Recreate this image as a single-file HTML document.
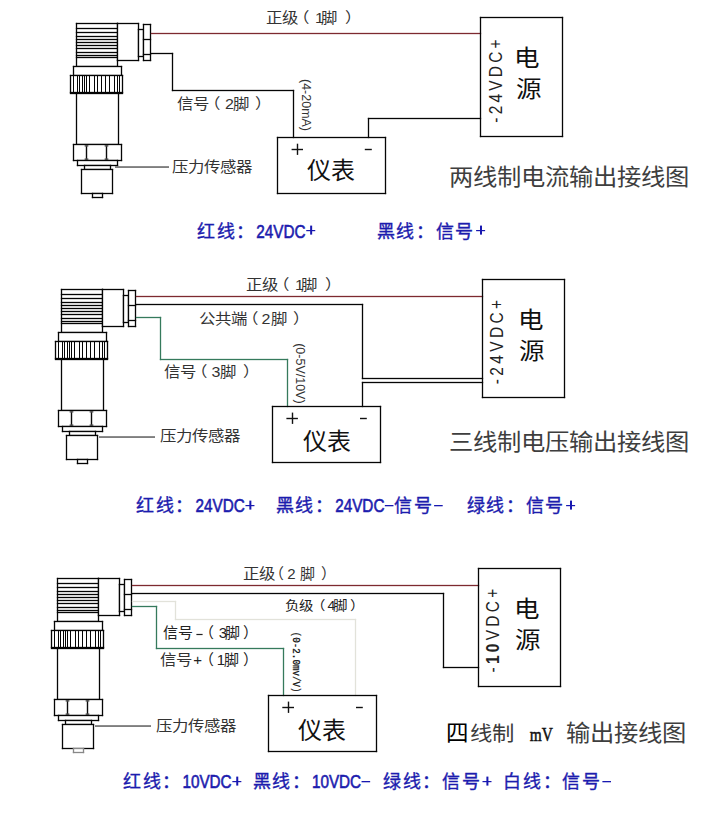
<!DOCTYPE html>
<html lang="zh-CN"><head><meta charset="utf-8"><title>wiring</title>
<style>
html,body{margin:0;padding:0;background:#fff;width:725px;height:822px;overflow:hidden}
svg{display:block}

text{font-family:"Liberation Sans",sans-serif}
.lbl{font-size:16px;fill:#333}
.l15{font-size:15px;fill:#222}
.l14{font-size:14px;fill:#222}
.lp{font-size:15px;fill:#333}
.vs{font-size:12px;fill:#333}
.vs2{font-size:11.5px;fill:#111;stroke:#111;stroke-width:0.25px;font-family:"Liberation Mono",monospace}
.yb{font-size:24px;fill:#111}
.vd{font-size:18px;fill:#222}
.dy{font-size:23px;fill:#111}
.ttl{font-size:24px;fill:#3e3e3e}
.t4{font-size:22.5px;fill:#000}
.t22{font-size:22px;fill:#3a3a3a}
.mv{font-family:"Liberation Serif",serif;font-size:19px;fill:#111;stroke:#111;stroke-width:0.5px}
.bl{font-size:18px;font-weight:500;fill:#1c1cae;stroke:#1c1cae;stroke-width:0.35px}
.bll{font-size:18.5px;fill:#1c1cae;stroke:#1c1cae;stroke-width:0.6px}
</style></head>
<body>
<svg width="725" height="822" viewBox="0 0 725 822">
<rect x="76" y="23" width="42" height="44" fill="#fff"/>
<rect x="75.85" y="22.85" width="42.3" height="1.3" fill="#050505"/>
<rect x="75.85" y="65.85" width="42.3" height="1.3" fill="#050505"/>
<rect x="75.85" y="22.85" width="1.3" height="44.3" fill="#050505"/>
<rect x="116.85" y="22.85" width="1.3" height="44.3" fill="#050505"/>
<rect x="75.85" y="27.85" width="42.3" height="1.3" fill="#050505"/>
<rect x="75.85" y="31.85" width="42.3" height="1.3" fill="#050505"/>
<rect x="75.85" y="35.85" width="42.3" height="1.3" fill="#050505"/>
<rect x="75.85" y="38.85" width="42.3" height="1.3" fill="#050505"/>
<rect x="75.85" y="41.85" width="42.3" height="1.3" fill="#050505"/>
<rect x="75.85" y="44.85" width="42.3" height="1.3" fill="#050505"/>
<rect x="75.85" y="47.85" width="42.3" height="1.3" fill="#050505"/>
<rect x="75.85" y="51.85" width="42.3" height="1.3" fill="#050505"/>
<rect x="75.85" y="54.85" width="42.3" height="1.3" fill="#050505"/>
<rect x="75.85" y="56.85" width="42.3" height="1.3" fill="#050505"/>
<rect x="117" y="23" width="22" height="38" fill="#fff"/>
<rect x="116.85" y="22.85" width="22.3" height="1.3" fill="#050505"/>
<rect x="116.85" y="59.85" width="22.3" height="1.3" fill="#050505"/>
<rect x="116.85" y="22.85" width="1.3" height="38.3" fill="#050505"/>
<rect x="137.85" y="22.85" width="1.3" height="38.3" fill="#050505"/>
<rect x="138" y="29" width="6" height="28" fill="#fff"/>
<rect x="137.85" y="28.85" width="6.3" height="1.3" fill="#050505"/>
<rect x="137.85" y="55.85" width="6.3" height="1.3" fill="#050505"/>
<rect x="137.85" y="28.85" width="1.3" height="28.3" fill="#050505"/>
<rect x="142.85" y="28.85" width="1.3" height="28.3" fill="#050505"/>
<rect x="143" y="24" width="8" height="37" fill="#fff"/>
<rect x="142.85" y="23.85" width="8.3" height="1.3" fill="#050505"/>
<rect x="142.85" y="59.85" width="8.3" height="1.3" fill="#050505"/>
<rect x="142.85" y="23.85" width="1.3" height="37.3" fill="#050505"/>
<rect x="149.85" y="23.85" width="1.3" height="37.3" fill="#050505"/>
<rect x="142.85" y="38.85" width="8.3" height="1.3" fill="#050505"/>
<rect x="142.85" y="53.85" width="8.3" height="1.3" fill="#050505"/>
<rect x="73" y="66" width="49" height="10" fill="#fff"/>
<rect x="72.85" y="65.85" width="49.3" height="1.3" fill="#050505"/>
<rect x="72.85" y="74.85" width="49.3" height="1.3" fill="#050505"/>
<rect x="72.85" y="65.85" width="1.3" height="10.3" fill="#050505"/>
<rect x="120.85" y="65.85" width="1.3" height="10.3" fill="#050505"/>
<rect x="70" y="75" width="53" height="18" fill="#fff"/>
<rect x="69.85" y="74.85" width="53.3" height="1.3" fill="#050505"/>
<rect x="69.85" y="91.85" width="53.3" height="1.3" fill="#050505"/>
<rect x="69.85" y="74.85" width="1.3" height="18.3" fill="#050505"/>
<rect x="121.85" y="74.85" width="1.3" height="18.3" fill="#050505"/>
<rect x="69.85" y="92.85" width="53.3" height="1.3" fill="#050505"/>
<rect x="73.0" y="75.0" width="1" height="18" fill="#050505"/>
<rect x="77.0" y="75.0" width="1" height="18" fill="#050505"/>
<rect x="79.0" y="75.0" width="1" height="18" fill="#050505"/>
<rect x="82.0" y="75.0" width="1" height="18" fill="#050505"/>
<rect x="84.0" y="75.0" width="1" height="18" fill="#050505"/>
<rect x="86.0" y="75.0" width="1" height="18" fill="#050505"/>
<rect x="89.0" y="75.0" width="1" height="18" fill="#050505"/>
<rect x="94.0" y="75.0" width="1" height="18" fill="#050505"/>
<rect x="97.0" y="75.0" width="1" height="18" fill="#050505"/>
<rect x="101.0" y="75.0" width="1" height="18" fill="#050505"/>
<rect x="105.0" y="75.0" width="1" height="18" fill="#050505"/>
<rect x="109.0" y="75.0" width="1" height="18" fill="#050505"/>
<rect x="114.0" y="75.0" width="1" height="18" fill="#050505"/>
<rect x="117.0" y="75.0" width="1" height="18" fill="#050505"/>
<rect x="119.0" y="75.0" width="1" height="18" fill="#050505"/>
<rect x="76" y="93" width="43" height="52" fill="#fff"/>
<rect x="75.85" y="92.85" width="43.3" height="1.3" fill="#050505"/>
<rect x="75.85" y="143.85" width="43.3" height="1.3" fill="#050505"/>
<rect x="75.85" y="92.85" width="1.3" height="52.3" fill="#050505"/>
<rect x="117.85" y="92.85" width="1.3" height="52.3" fill="#050505"/>
<rect x="73" y="144" width="49" height="17" fill="#fff"/>
<rect x="72.85" y="143.85" width="49.3" height="1.3" fill="#050505"/>
<rect x="72.85" y="159.85" width="49.3" height="1.3" fill="#050505"/>
<rect x="72.85" y="143.85" width="1.3" height="17.3" fill="#050505"/>
<rect x="120.85" y="143.85" width="1.3" height="17.3" fill="#050505"/>
<rect x="85.8" y="144.8" width="1.4" height="15.4" fill="#0a0a0a"/>
<rect x="84.65" y="145.1" width="3.7" height="1.5" fill="#555"/>
<rect x="84.65" y="158.4" width="3.7" height="1.5" fill="#555"/>
<rect x="105.8" y="144.8" width="1.4" height="15.4" fill="#0a0a0a"/>
<rect x="104.65" y="145.1" width="3.7" height="1.5" fill="#555"/>
<rect x="104.65" y="158.4" width="3.7" height="1.5" fill="#555"/>
<rect x="77" y="160" width="41" height="6" fill="#fff"/>
<rect x="76.85" y="159.85" width="41.3" height="1.3" fill="#050505"/>
<rect x="76.85" y="164.85" width="41.3" height="1.3" fill="#050505"/>
<rect x="76.85" y="159.85" width="1.3" height="6.3" fill="#050505"/>
<rect x="116.85" y="159.85" width="1.3" height="6.3" fill="#050505"/>
<rect x="84" y="165" width="27" height="5" fill="#fff"/>
<rect x="83.85" y="164.85" width="27.3" height="1.3" fill="#050505"/>
<rect x="83.85" y="168.85" width="27.3" height="1.3" fill="#050505"/>
<rect x="83.85" y="164.85" width="1.3" height="5.3" fill="#050505"/>
<rect x="109.85" y="164.85" width="1.3" height="5.3" fill="#050505"/>
<rect x="81" y="169" width="32" height="25" fill="#fff"/>
<rect x="80.85" y="168.85" width="32.3" height="1.3" fill="#050505"/>
<rect x="80.85" y="192.85" width="32.3" height="1.3" fill="#050505"/>
<rect x="80.85" y="168.85" width="1.3" height="25.3" fill="#050505"/>
<rect x="111.85" y="168.85" width="1.3" height="25.3" fill="#050505"/>
<rect x="92" y="193" width="11" height="5" fill="#fff"/>
<rect x="91.85" y="192.85" width="11.3" height="1.3" fill="#050505"/>
<rect x="91.85" y="196.85" width="11.3" height="1.3" fill="#050505"/>
<rect x="91.85" y="192.85" width="1.3" height="5.3" fill="#050505"/>
<rect x="101.85" y="192.85" width="1.3" height="5.3" fill="#050505"/>
<rect x="150.85" y="32.85" width="330.3" height="1.3" fill="#7d2a30"/>
<rect x="150.85" y="52.85" width="22.3" height="1.3" fill="#050505"/>
<rect x="171.85" y="52.85" width="1.3" height="38.3" fill="#050505"/>
<rect x="171.85" y="89.85" width="122.3" height="1.3" fill="#050505"/>
<rect x="292.85" y="89.85" width="1.3" height="48.3" fill="#050505"/>
<rect x="367.85" y="117.85" width="1.3" height="20.3" fill="#050505"/>
<rect x="367.85" y="117.85" width="113.3" height="1.3" fill="#050505"/>
<rect x="115" y="166.2" width="54" height="1.7" fill="#707070"/>
<rect x="276.85" y="136.85" width="109.3" height="1.3" fill="#050505"/>
<rect x="276.85" y="192.85" width="109.3" height="1.3" fill="#050505"/>
<rect x="276.85" y="136.85" width="1.3" height="57.3" fill="#050505"/>
<rect x="384.85" y="136.85" width="1.3" height="57.3" fill="#050505"/>
<rect x="479.85" y="16.85" width="83.3" height="1.3" fill="#050505"/>
<rect x="479.85" y="135.85" width="83.3" height="1.3" fill="#050505"/>
<rect x="479.85" y="16.85" width="1.3" height="120.3" fill="#050505"/>
<rect x="561.85" y="16.85" width="1.3" height="120.3" fill="#050505"/>
<rect x="61" y="289" width="42" height="44" fill="#fff"/>
<rect x="60.85" y="288.85" width="42.3" height="1.3" fill="#050505"/>
<rect x="60.85" y="331.85" width="42.3" height="1.3" fill="#050505"/>
<rect x="60.85" y="288.85" width="1.3" height="44.3" fill="#050505"/>
<rect x="101.85" y="288.85" width="1.3" height="44.3" fill="#050505"/>
<rect x="60.85" y="293.85" width="42.3" height="1.3" fill="#050505"/>
<rect x="60.85" y="297.85" width="42.3" height="1.3" fill="#050505"/>
<rect x="60.85" y="301.85" width="42.3" height="1.3" fill="#050505"/>
<rect x="60.85" y="304.85" width="42.3" height="1.3" fill="#050505"/>
<rect x="60.85" y="307.85" width="42.3" height="1.3" fill="#050505"/>
<rect x="60.85" y="310.85" width="42.3" height="1.3" fill="#050505"/>
<rect x="60.85" y="313.85" width="42.3" height="1.3" fill="#050505"/>
<rect x="60.85" y="317.85" width="42.3" height="1.3" fill="#050505"/>
<rect x="60.85" y="320.85" width="42.3" height="1.3" fill="#050505"/>
<rect x="60.85" y="322.85" width="42.3" height="1.3" fill="#050505"/>
<rect x="102" y="289" width="22" height="38" fill="#fff"/>
<rect x="101.85" y="288.85" width="22.3" height="1.3" fill="#050505"/>
<rect x="101.85" y="325.85" width="22.3" height="1.3" fill="#050505"/>
<rect x="101.85" y="288.85" width="1.3" height="38.3" fill="#050505"/>
<rect x="122.85" y="288.85" width="1.3" height="38.3" fill="#050505"/>
<rect x="123" y="295" width="6" height="28" fill="#fff"/>
<rect x="122.85" y="294.85" width="6.3" height="1.3" fill="#050505"/>
<rect x="122.85" y="321.85" width="6.3" height="1.3" fill="#050505"/>
<rect x="122.85" y="294.85" width="1.3" height="28.3" fill="#050505"/>
<rect x="127.85" y="294.85" width="1.3" height="28.3" fill="#050505"/>
<rect x="128" y="290" width="8" height="37" fill="#fff"/>
<rect x="127.85" y="289.85" width="8.3" height="1.3" fill="#050505"/>
<rect x="127.85" y="325.85" width="8.3" height="1.3" fill="#050505"/>
<rect x="127.85" y="289.85" width="1.3" height="37.3" fill="#050505"/>
<rect x="134.85" y="289.85" width="1.3" height="37.3" fill="#050505"/>
<rect x="127.85" y="304.85" width="8.3" height="1.3" fill="#050505"/>
<rect x="127.85" y="319.85" width="8.3" height="1.3" fill="#050505"/>
<rect x="58" y="332" width="49" height="10" fill="#fff"/>
<rect x="57.85" y="331.85" width="49.3" height="1.3" fill="#050505"/>
<rect x="57.85" y="340.85" width="49.3" height="1.3" fill="#050505"/>
<rect x="57.85" y="331.85" width="1.3" height="10.3" fill="#050505"/>
<rect x="105.85" y="331.85" width="1.3" height="10.3" fill="#050505"/>
<rect x="55" y="341" width="53" height="18" fill="#fff"/>
<rect x="54.85" y="340.85" width="53.3" height="1.3" fill="#050505"/>
<rect x="54.85" y="357.85" width="53.3" height="1.3" fill="#050505"/>
<rect x="54.85" y="340.85" width="1.3" height="18.3" fill="#050505"/>
<rect x="106.85" y="340.85" width="1.3" height="18.3" fill="#050505"/>
<rect x="54.85" y="358.85" width="53.3" height="1.3" fill="#050505"/>
<rect x="58.0" y="341.0" width="1" height="18" fill="#050505"/>
<rect x="62.0" y="341.0" width="1" height="18" fill="#050505"/>
<rect x="64.0" y="341.0" width="1" height="18" fill="#050505"/>
<rect x="67.0" y="341.0" width="1" height="18" fill="#050505"/>
<rect x="69.0" y="341.0" width="1" height="18" fill="#050505"/>
<rect x="71.0" y="341.0" width="1" height="18" fill="#050505"/>
<rect x="74.0" y="341.0" width="1" height="18" fill="#050505"/>
<rect x="79.0" y="341.0" width="1" height="18" fill="#050505"/>
<rect x="82.0" y="341.0" width="1" height="18" fill="#050505"/>
<rect x="86.0" y="341.0" width="1" height="18" fill="#050505"/>
<rect x="90.0" y="341.0" width="1" height="18" fill="#050505"/>
<rect x="94.0" y="341.0" width="1" height="18" fill="#050505"/>
<rect x="99.0" y="341.0" width="1" height="18" fill="#050505"/>
<rect x="102.0" y="341.0" width="1" height="18" fill="#050505"/>
<rect x="104.0" y="341.0" width="1" height="18" fill="#050505"/>
<rect x="61" y="359" width="43" height="52" fill="#fff"/>
<rect x="60.85" y="358.85" width="43.3" height="1.3" fill="#050505"/>
<rect x="60.85" y="409.85" width="43.3" height="1.3" fill="#050505"/>
<rect x="60.85" y="358.85" width="1.3" height="52.3" fill="#050505"/>
<rect x="102.85" y="358.85" width="1.3" height="52.3" fill="#050505"/>
<rect x="58" y="410" width="49" height="17" fill="#fff"/>
<rect x="57.85" y="409.85" width="49.3" height="1.3" fill="#050505"/>
<rect x="57.85" y="425.85" width="49.3" height="1.3" fill="#050505"/>
<rect x="57.85" y="409.85" width="1.3" height="17.3" fill="#050505"/>
<rect x="105.85" y="409.85" width="1.3" height="17.3" fill="#050505"/>
<rect x="70.8" y="410.8" width="1.4" height="15.4" fill="#0a0a0a"/>
<rect x="69.65" y="411.1" width="3.7" height="1.5" fill="#555"/>
<rect x="69.65" y="424.4" width="3.7" height="1.5" fill="#555"/>
<rect x="90.8" y="410.8" width="1.4" height="15.4" fill="#0a0a0a"/>
<rect x="89.65" y="411.1" width="3.7" height="1.5" fill="#555"/>
<rect x="89.65" y="424.4" width="3.7" height="1.5" fill="#555"/>
<rect x="62" y="426" width="41" height="6" fill="#fff"/>
<rect x="61.85" y="425.85" width="41.3" height="1.3" fill="#050505"/>
<rect x="61.85" y="430.85" width="41.3" height="1.3" fill="#050505"/>
<rect x="61.85" y="425.85" width="1.3" height="6.3" fill="#050505"/>
<rect x="101.85" y="425.85" width="1.3" height="6.3" fill="#050505"/>
<rect x="69" y="431" width="27" height="5" fill="#fff"/>
<rect x="68.85" y="430.85" width="27.3" height="1.3" fill="#050505"/>
<rect x="68.85" y="434.85" width="27.3" height="1.3" fill="#050505"/>
<rect x="68.85" y="430.85" width="1.3" height="5.3" fill="#050505"/>
<rect x="94.85" y="430.85" width="1.3" height="5.3" fill="#050505"/>
<rect x="66" y="435" width="32" height="25" fill="#fff"/>
<rect x="65.85" y="434.85" width="32.3" height="1.3" fill="#050505"/>
<rect x="65.85" y="458.85" width="32.3" height="1.3" fill="#050505"/>
<rect x="65.85" y="434.85" width="1.3" height="25.3" fill="#050505"/>
<rect x="96.85" y="434.85" width="1.3" height="25.3" fill="#050505"/>
<rect x="77" y="459" width="11" height="5" fill="#fff"/>
<rect x="76.85" y="458.85" width="11.3" height="1.3" fill="#050505"/>
<rect x="76.85" y="462.85" width="11.3" height="1.3" fill="#050505"/>
<rect x="76.85" y="458.85" width="1.3" height="5.3" fill="#050505"/>
<rect x="86.85" y="458.85" width="1.3" height="5.3" fill="#050505"/>
<rect x="135.85" y="295.85" width="347.3" height="1.3" fill="#7d2a30"/>
<rect x="135.85" y="303.85" width="227.3" height="1.3" fill="#050505"/>
<rect x="361.85" y="303.85" width="1.3" height="75.3" fill="#050505"/>
<rect x="361.85" y="377.85" width="121.3" height="1.3" fill="#050505"/>
<rect x="361.85" y="381.85" width="1.3" height="25.3" fill="#050505"/>
<rect x="361.85" y="381.85" width="121.3" height="1.3" fill="#050505"/>
<rect x="135.85" y="316.85" width="25.3" height="1.3" fill="#357a5c"/>
<rect x="159.85" y="316.85" width="1.3" height="43.3" fill="#357a5c"/>
<rect x="159.85" y="358.85" width="128.3" height="1.3" fill="#357a5c"/>
<rect x="286.85" y="358.85" width="1.3" height="48.3" fill="#357a5c"/>
<rect x="99" y="436.2" width="56" height="1.7" fill="#707070"/>
<rect x="271.85" y="405.85" width="109.3" height="1.3" fill="#050505"/>
<rect x="271.85" y="461.85" width="109.3" height="1.3" fill="#050505"/>
<rect x="271.85" y="405.85" width="1.3" height="57.3" fill="#050505"/>
<rect x="379.85" y="405.85" width="1.3" height="57.3" fill="#050505"/>
<rect x="481.85" y="278.85" width="83.3" height="1.3" fill="#050505"/>
<rect x="481.85" y="396.85" width="83.3" height="1.3" fill="#050505"/>
<rect x="481.85" y="278.85" width="1.3" height="119.3" fill="#050505"/>
<rect x="563.85" y="278.85" width="1.3" height="119.3" fill="#050505"/>
<rect x="57" y="578" width="42" height="44" fill="#fff"/>
<rect x="56.85" y="577.85" width="42.3" height="1.3" fill="#050505"/>
<rect x="56.85" y="620.85" width="42.3" height="1.3" fill="#050505"/>
<rect x="56.85" y="577.85" width="1.3" height="44.3" fill="#050505"/>
<rect x="97.85" y="577.85" width="1.3" height="44.3" fill="#050505"/>
<rect x="56.85" y="582.85" width="42.3" height="1.3" fill="#050505"/>
<rect x="56.85" y="586.85" width="42.3" height="1.3" fill="#050505"/>
<rect x="56.85" y="590.85" width="42.3" height="1.3" fill="#050505"/>
<rect x="56.85" y="593.85" width="42.3" height="1.3" fill="#050505"/>
<rect x="56.85" y="596.85" width="42.3" height="1.3" fill="#050505"/>
<rect x="56.85" y="599.85" width="42.3" height="1.3" fill="#050505"/>
<rect x="56.85" y="602.85" width="42.3" height="1.3" fill="#050505"/>
<rect x="56.85" y="606.85" width="42.3" height="1.3" fill="#050505"/>
<rect x="56.85" y="609.85" width="42.3" height="1.3" fill="#050505"/>
<rect x="56.85" y="611.85" width="42.3" height="1.3" fill="#050505"/>
<rect x="98" y="578" width="22" height="38" fill="#fff"/>
<rect x="97.85" y="577.85" width="22.3" height="1.3" fill="#050505"/>
<rect x="97.85" y="614.85" width="22.3" height="1.3" fill="#050505"/>
<rect x="97.85" y="577.85" width="1.3" height="38.3" fill="#050505"/>
<rect x="118.85" y="577.85" width="1.3" height="38.3" fill="#050505"/>
<rect x="119" y="584" width="6" height="28" fill="#fff"/>
<rect x="118.85" y="583.85" width="6.3" height="1.3" fill="#050505"/>
<rect x="118.85" y="610.85" width="6.3" height="1.3" fill="#050505"/>
<rect x="118.85" y="583.85" width="1.3" height="28.3" fill="#050505"/>
<rect x="123.85" y="583.85" width="1.3" height="28.3" fill="#050505"/>
<rect x="124" y="579" width="8" height="37" fill="#fff"/>
<rect x="123.85" y="578.85" width="8.3" height="1.3" fill="#050505"/>
<rect x="123.85" y="614.85" width="8.3" height="1.3" fill="#050505"/>
<rect x="123.85" y="578.85" width="1.3" height="37.3" fill="#050505"/>
<rect x="130.85" y="578.85" width="1.3" height="37.3" fill="#050505"/>
<rect x="123.85" y="593.85" width="8.3" height="1.3" fill="#050505"/>
<rect x="123.85" y="608.85" width="8.3" height="1.3" fill="#050505"/>
<rect x="54" y="621" width="49" height="10" fill="#fff"/>
<rect x="53.85" y="620.85" width="49.3" height="1.3" fill="#050505"/>
<rect x="53.85" y="629.85" width="49.3" height="1.3" fill="#050505"/>
<rect x="53.85" y="620.85" width="1.3" height="10.3" fill="#050505"/>
<rect x="101.85" y="620.85" width="1.3" height="10.3" fill="#050505"/>
<rect x="51" y="630" width="53" height="18" fill="#fff"/>
<rect x="50.85" y="629.85" width="53.3" height="1.3" fill="#050505"/>
<rect x="50.85" y="646.85" width="53.3" height="1.3" fill="#050505"/>
<rect x="50.85" y="629.85" width="1.3" height="18.3" fill="#050505"/>
<rect x="102.85" y="629.85" width="1.3" height="18.3" fill="#050505"/>
<rect x="50.85" y="647.85" width="53.3" height="1.3" fill="#050505"/>
<rect x="54.0" y="630.0" width="1" height="18" fill="#050505"/>
<rect x="58.0" y="630.0" width="1" height="18" fill="#050505"/>
<rect x="60.0" y="630.0" width="1" height="18" fill="#050505"/>
<rect x="63.0" y="630.0" width="1" height="18" fill="#050505"/>
<rect x="65.0" y="630.0" width="1" height="18" fill="#050505"/>
<rect x="67.0" y="630.0" width="1" height="18" fill="#050505"/>
<rect x="70.0" y="630.0" width="1" height="18" fill="#050505"/>
<rect x="75.0" y="630.0" width="1" height="18" fill="#050505"/>
<rect x="78.0" y="630.0" width="1" height="18" fill="#050505"/>
<rect x="82.0" y="630.0" width="1" height="18" fill="#050505"/>
<rect x="86.0" y="630.0" width="1" height="18" fill="#050505"/>
<rect x="90.0" y="630.0" width="1" height="18" fill="#050505"/>
<rect x="95.0" y="630.0" width="1" height="18" fill="#050505"/>
<rect x="98.0" y="630.0" width="1" height="18" fill="#050505"/>
<rect x="100.0" y="630.0" width="1" height="18" fill="#050505"/>
<rect x="57" y="648" width="43" height="52" fill="#fff"/>
<rect x="56.85" y="647.85" width="43.3" height="1.3" fill="#050505"/>
<rect x="56.85" y="698.85" width="43.3" height="1.3" fill="#050505"/>
<rect x="56.85" y="647.85" width="1.3" height="52.3" fill="#050505"/>
<rect x="98.85" y="647.85" width="1.3" height="52.3" fill="#050505"/>
<rect x="54" y="699" width="49" height="17" fill="#fff"/>
<rect x="53.85" y="698.85" width="49.3" height="1.3" fill="#050505"/>
<rect x="53.85" y="714.85" width="49.3" height="1.3" fill="#050505"/>
<rect x="53.85" y="698.85" width="1.3" height="17.3" fill="#050505"/>
<rect x="101.85" y="698.85" width="1.3" height="17.3" fill="#050505"/>
<rect x="66.8" y="699.8" width="1.4" height="15.4" fill="#0a0a0a"/>
<rect x="65.65" y="700.1" width="3.7" height="1.5" fill="#555"/>
<rect x="65.65" y="713.4" width="3.7" height="1.5" fill="#555"/>
<rect x="86.8" y="699.8" width="1.4" height="15.4" fill="#0a0a0a"/>
<rect x="85.65" y="700.1" width="3.7" height="1.5" fill="#555"/>
<rect x="85.65" y="713.4" width="3.7" height="1.5" fill="#555"/>
<rect x="58" y="715" width="41" height="6" fill="#fff"/>
<rect x="57.85" y="714.85" width="41.3" height="1.3" fill="#050505"/>
<rect x="57.85" y="719.85" width="41.3" height="1.3" fill="#050505"/>
<rect x="57.85" y="714.85" width="1.3" height="6.3" fill="#050505"/>
<rect x="97.85" y="714.85" width="1.3" height="6.3" fill="#050505"/>
<rect x="65" y="720" width="27" height="5" fill="#fff"/>
<rect x="64.85" y="719.85" width="27.3" height="1.3" fill="#050505"/>
<rect x="64.85" y="723.85" width="27.3" height="1.3" fill="#050505"/>
<rect x="64.85" y="719.85" width="1.3" height="5.3" fill="#050505"/>
<rect x="90.85" y="719.85" width="1.3" height="5.3" fill="#050505"/>
<rect x="62" y="724" width="32" height="25" fill="#fff"/>
<rect x="61.85" y="723.85" width="32.3" height="1.3" fill="#050505"/>
<rect x="61.85" y="747.85" width="32.3" height="1.3" fill="#050505"/>
<rect x="61.85" y="723.85" width="1.3" height="25.3" fill="#050505"/>
<rect x="92.85" y="723.85" width="1.3" height="25.3" fill="#050505"/>
<rect x="73" y="748" width="11" height="5" fill="#fff"/>
<rect x="72.85" y="747.85" width="11.3" height="1.3" fill="#888"/>
<rect x="72.85" y="751.85" width="11.3" height="1.3" fill="#888"/>
<rect x="72.85" y="747.85" width="1.3" height="5.3" fill="#888"/>
<rect x="82.85" y="747.85" width="1.3" height="5.3" fill="#888"/>
<rect x="131.85" y="584.85" width="347.3" height="1.3" fill="#7d2a30"/>
<rect x="131.85" y="592.85" width="312.3" height="1.3" fill="#050505"/>
<rect x="442.85" y="592.85" width="1.3" height="75.3" fill="#050505"/>
<rect x="442.85" y="666.85" width="36.3" height="1.3" fill="#050505"/>
<rect x="131.85" y="600.85" width="44.3" height="1.3" fill="#e2e2da"/>
<rect x="174.85" y="600.85" width="1.3" height="19.3" fill="#e2e2da"/>
<rect x="174.85" y="618.85" width="181.3" height="1.3" fill="#e2e2da"/>
<rect x="354.85" y="618.85" width="1.3" height="77.3" fill="#e2e2da"/>
<rect x="131.85" y="605.85" width="25.3" height="1.3" fill="#357a5c"/>
<rect x="155.85" y="605.85" width="1.3" height="43.3" fill="#357a5c"/>
<rect x="155.85" y="647.85" width="128.3" height="1.3" fill="#357a5c"/>
<rect x="282.85" y="647.85" width="1.3" height="48.3" fill="#357a5c"/>
<rect x="95" y="725.2" width="56" height="1.7" fill="#707070"/>
<rect x="267.85" y="694.85" width="109.3" height="1.3" fill="#050505"/>
<rect x="267.85" y="750.85" width="109.3" height="1.3" fill="#050505"/>
<rect x="267.85" y="694.85" width="1.3" height="57.3" fill="#050505"/>
<rect x="375.85" y="694.85" width="1.3" height="57.3" fill="#050505"/>
<rect x="477.85" y="567.85" width="83.3" height="1.3" fill="#050505"/>
<rect x="477.85" y="685.85" width="83.3" height="1.3" fill="#050505"/>
<rect x="477.85" y="567.85" width="1.3" height="119.3" fill="#050505"/>
<rect x="559.85" y="567.85" width="1.3" height="119.3" fill="#050505"/>
<text transform="translate(265.90,22.76) scale(1.0,0.92)" class="lbl" textLength="32.00" lengthAdjust="spacingAndGlyphs">正级</text>
<text transform="translate(293.00,22.76) scale(1.0,0.92)" class="lbl" textLength="16.00" lengthAdjust="spacingAndGlyphs">（</text>
<text transform="translate(314.90,22.76) scale(1.0,0.92)" class="lbl" textLength="8.91" lengthAdjust="spacingAndGlyphs">1</text>
<text transform="translate(321.00,22.76) scale(1.0,0.92)" class="lbl" textLength="16.00" lengthAdjust="spacingAndGlyphs">脚</text>
<text transform="translate(345.20,22.76) scale(1.0,0.92)" class="lbl" textLength="16.00" lengthAdjust="spacingAndGlyphs">）</text>
<text transform="translate(176.60,109.16) scale(1.0,0.92)" class="lbl" textLength="32.00" lengthAdjust="spacingAndGlyphs">信号</text>
<text transform="translate(203.80,109.16) scale(1.0,0.92)" class="lbl" textLength="16.00" lengthAdjust="spacingAndGlyphs">（</text>
<text transform="translate(224.90,109.16) scale(1.0,0.92)" class="lbl" textLength="8.91" lengthAdjust="spacingAndGlyphs">2</text>
<text transform="translate(233.10,109.16) scale(1.0,0.92)" class="lbl" textLength="16.00" lengthAdjust="spacingAndGlyphs">脚</text>
<text transform="translate(255.20,109.16) scale(1.0,0.92)" class="lbl" textLength="16.00" lengthAdjust="spacingAndGlyphs">）</text>
<text transform="translate(171.60,172.46) scale(1.0,0.92)" class="lbl" textLength="80.00" lengthAdjust="spacingAndGlyphs">压力传感器</text>
<text transform="translate(245.90,289.76) scale(1.0,0.92)" class="lbl" textLength="32.00" lengthAdjust="spacingAndGlyphs">正级</text>
<text transform="translate(273.00,289.76) scale(1.0,0.92)" class="lbl" textLength="16.00" lengthAdjust="spacingAndGlyphs">（</text>
<text transform="translate(294.90,289.76) scale(1.0,0.92)" class="lbl" textLength="8.91" lengthAdjust="spacingAndGlyphs">1</text>
<text transform="translate(301.00,289.76) scale(1.0,0.92)" class="lbl" textLength="16.00" lengthAdjust="spacingAndGlyphs">脚</text>
<text transform="translate(325.20,289.76) scale(1.0,0.92)" class="lbl" textLength="16.00" lengthAdjust="spacingAndGlyphs">）</text>
<text transform="translate(199.30,323.76) scale(1.0,0.92)" class="lbl" textLength="48.00" lengthAdjust="spacingAndGlyphs">公共端</text>
<text transform="translate(242.40,323.76) scale(1.0,0.92)" class="lbl" textLength="16.00" lengthAdjust="spacingAndGlyphs">（</text>
<text transform="translate(261.50,323.76) scale(1.0,0.92)" class="lbl" textLength="8.91" lengthAdjust="spacingAndGlyphs">2</text>
<text transform="translate(271.40,323.76) scale(1.0,0.92)" class="lbl" textLength="16.00" lengthAdjust="spacingAndGlyphs">脚</text>
<text transform="translate(293.40,323.76) scale(1.0,0.92)" class="lbl" textLength="16.00" lengthAdjust="spacingAndGlyphs">）</text>
<text transform="translate(163.90,376.76) scale(1.0,0.92)" class="lbl" textLength="32.00" lengthAdjust="spacingAndGlyphs">信号</text>
<text transform="translate(190.90,376.76) scale(1.0,0.92)" class="lbl" textLength="16.00" lengthAdjust="spacingAndGlyphs">（</text>
<text transform="translate(211.50,376.76) scale(1.0,0.92)" class="lbl" textLength="8.91" lengthAdjust="spacingAndGlyphs">3</text>
<text transform="translate(220.40,376.76) scale(1.0,0.92)" class="lbl" textLength="16.00" lengthAdjust="spacingAndGlyphs">脚</text>
<text transform="translate(242.50,376.76) scale(1.0,0.92)" class="lbl" textLength="16.00" lengthAdjust="spacingAndGlyphs">）</text>
<text transform="translate(159.90,441.46) scale(1.0,0.92)" class="lbl" textLength="80.00" lengthAdjust="spacingAndGlyphs">压力传感器</text>
<text transform="translate(242.50,579.46) scale(1.0,0.92)" class="lbl" textLength="32.00" lengthAdjust="spacingAndGlyphs">正级</text>
<text x="269.10" y="579.46" class="lp">（</text>
<text x="287.30" y="579.46" class="lp">2</text>
<text x="300.40" y="579.46" class="lp">脚</text>
<text x="321.10" y="579.46" class="lp">）</text>
<text transform="translate(285.10,609.94) scale(1.0,0.92)" class="l14" textLength="28.00" lengthAdjust="spacingAndGlyphs">负级</text>
<text transform="translate(310.80,609.94) scale(1.0,0.92)" class="l14" textLength="14.00" lengthAdjust="spacingAndGlyphs">（</text>
<text transform="translate(327.50,609.94) scale(1.0,0.92)" class="l14" textLength="7.80" lengthAdjust="spacingAndGlyphs">4</text>
<text transform="translate(333.10,609.94) scale(1.0,0.92)" class="l14" textLength="14.00" lengthAdjust="spacingAndGlyphs">脚</text>
<text transform="translate(349.60,609.94) scale(1.0,0.92)" class="l14" textLength="14.00" lengthAdjust="spacingAndGlyphs">）</text>
<text x="163.00" y="638.10" class="l15">信号</text>
<text x="199.20" y="638.10" class="l15">（</text>
<text x="218.80" y="638.10" class="l15">3</text>
<text x="225.00" y="638.10" class="l15">脚</text>
<text x="243.00" y="638.10" class="l15">）</text>
<text transform="translate(160.20,664.96) scale(1.0,0.92)" class="lbl" textLength="32.00" lengthAdjust="spacingAndGlyphs">信号</text>
<text x="193.30" y="664.96" class="l15">+</text>
<text x="199.20" y="664.96" class="l15">（</text>
<text x="216.80" y="664.96" class="l15">1</text>
<text x="224.30" y="664.96" class="l15">脚</text>
<text x="243.00" y="664.96" class="l15">）</text>
<text transform="translate(155.90,731.16) scale(1.0,0.92)" class="lbl" textLength="80.00" lengthAdjust="spacingAndGlyphs">压力传感器</text>
<text x="306.60" y="178.80" class="yb">仪表</text>
<text x="302.50" y="449.90" class="yb">仪表</text>
<text x="298.40" y="739.00" class="yb">仪表</text>
<text transform="translate(514.41,65.90) scale(1.13,1.0)" class="dy" textLength="23.00" lengthAdjust="spacingAndGlyphs">电</text>
<text transform="translate(516.27,97.00) scale(1.13,1.0)" class="dy" textLength="23.00" lengthAdjust="spacingAndGlyphs">源</text>
<text transform="translate(517.51,327.90) scale(1.13,1.0)" class="dy" textLength="23.00" lengthAdjust="spacingAndGlyphs">电</text>
<text transform="translate(519.07,358.60) scale(1.13,1.0)" class="dy" textLength="23.00" lengthAdjust="spacingAndGlyphs">源</text>
<text transform="translate(513.51,617.10) scale(1.13,1.0)" class="dy" textLength="23.00" lengthAdjust="spacingAndGlyphs">电</text>
<text transform="translate(515.37,647.80) scale(1.13,1.0)" class="dy" textLength="23.00" lengthAdjust="spacingAndGlyphs">源</text>
<text transform="translate(448.80,184.80) scale(1.0,0.94)" class="ttl" textLength="240.00" lengthAdjust="spacingAndGlyphs">两线制电流输出接线图</text>
<text transform="translate(448.80,450.30) scale(1.0,0.94)" class="ttl" textLength="240.00" lengthAdjust="spacingAndGlyphs">三线制电压输出接线图</text>
<text x="445.90" y="740.80" class="t4">四</text>
<text transform="translate(469.50,740.80) scale(1.0,0.94)" class="t22" textLength="44.00" lengthAdjust="spacingAndGlyphs">线制</text>
<text transform="translate(529.80,740.80) scale(0.81,1.0)" class="mv" textLength="28.50" lengthAdjust="spacingAndGlyphs">mV</text>
<text transform="translate(566.30,740.80) scale(1.0,0.94)" class="ttl" textLength="120.00" lengthAdjust="spacingAndGlyphs">输出接线图</text>
<text x="196.90" y="238.20" class="bl" letter-spacing="1.70">红线：</text>
<text x="256.30" y="237.60" class="bll" textLength="49.25" lengthAdjust="spacingAndGlyphs">24VDC</text>
<rect x="306.25" y="230" width="9" height="1.2" fill="#1818b0"/>
<rect x="310.15" y="225.60" width="2" height="9" fill="#1818b0"/>
<text x="376.60" y="238.20" class="bl" letter-spacing="1.70">黑线：信号</text>
<rect x="476.10" y="230" width="9" height="1.2" fill="#1818b0"/>
<rect x="480.00" y="225.60" width="2" height="9" fill="#1818b0"/>
<text x="136.10" y="512.30" class="bl" letter-spacing="1.70">红线：</text>
<text x="195.50" y="511.70" class="bll" textLength="49.25" lengthAdjust="spacingAndGlyphs">24VDC</text>
<rect x="245.45" y="505" width="9" height="1.2" fill="#1818b0"/>
<rect x="249.35" y="500.60" width="2" height="9" fill="#1818b0"/>
<text x="275.80" y="512.30" class="bl" letter-spacing="1.70">黑线：</text>
<text x="335.20" y="511.70" class="bll" textLength="49.25" lengthAdjust="spacingAndGlyphs">24VDC</text>
<rect x="384.85" y="505" width="8.6" height="1.3" fill="#1818b0"/>
<text x="394.00" y="512.30" class="bl" letter-spacing="1.70">信号</text>
<rect x="434.10" y="505" width="8.6" height="1.3" fill="#1818b0"/>
<text x="466.60" y="512.30" class="bl" letter-spacing="1.70">绿线：信号</text>
<rect x="566.10" y="505" width="9" height="1.2" fill="#1818b0"/>
<rect x="570.00" y="500.60" width="2" height="9" fill="#1818b0"/>
<text x="123.00" y="788.30" class="bl" letter-spacing="1.70">红线：</text>
<text x="182.40" y="787.70" class="bll" textLength="49.25" lengthAdjust="spacingAndGlyphs">10VDC</text>
<rect x="232.35" y="781" width="9" height="1.2" fill="#1818b0"/>
<rect x="236.25" y="776.60" width="2" height="9" fill="#1818b0"/>
<text x="252.50" y="788.30" class="bl" letter-spacing="1.70">黑线：</text>
<text x="311.90" y="787.70" class="bll" textLength="49.25" lengthAdjust="spacingAndGlyphs">10VDC</text>
<rect x="361.55" y="781" width="8.6" height="1.3" fill="#1818b0"/>
<text x="383.00" y="788.30" class="bl" letter-spacing="1.70">绿线：信号</text>
<rect x="482.50" y="781" width="9" height="1.2" fill="#1818b0"/>
<rect x="486.40" y="776.60" width="2" height="9" fill="#1818b0"/>
<text x="503.20" y="788.30" class="bl" letter-spacing="1.70">白线：信号</text>
<rect x="602.40" y="781" width="8.6" height="1.3" fill="#1818b0"/>
<text class="vs" transform="translate(302.2,79) rotate(90)" textLength="52" lengthAdjust="spacingAndGlyphs">(4-20mA)</text>
<text class="vs" transform="translate(296,343.2) rotate(90)" textLength="60.4" lengthAdjust="spacingAndGlyphs">(0-5V/10V)</text>
<text class="vs2" transform="translate(292.6,631.8) rotate(90)" textLength="60.7" lengthAdjust="spacingAndGlyphs">(0-2.0mv/V)</text>
<text class="vd" transform="translate(501.7,122.7) rotate(-90) scale(0.86,1)" textLength="96.86" lengthAdjust="spacing">-24VDC+</text>
<text class="vd" transform="translate(503.4,384.3) rotate(-90) scale(0.86,1)" textLength="98.14" lengthAdjust="spacing">-24VDC+</text>
<text class="vd" transform="translate(499.4,672.5) rotate(-90) scale(0.86,1)" textLength="97.44" lengthAdjust="spacing">-<tspan font-weight="bold">10</tspan>VDC+</text>
<rect x="291.6" y="148.8" width="11.399999999999977" height="1.4" fill="#111" shape-rendering="geometricPrecision"/>
<rect x="296.8" y="143.7" width="1.4" height="11.200000000000017" fill="#111" shape-rendering="geometricPrecision"/>
<rect x="364.8" y="148.8" width="7.0" height="1.4" fill="#111" shape-rendering="geometricPrecision"/>
<rect x="286.4" y="417.8" width="11.5" height="1.4" fill="#111" shape-rendering="geometricPrecision"/>
<rect x="291.8" y="412.6" width="1.4" height="11.299999999999955" fill="#111" shape-rendering="geometricPrecision"/>
<rect x="360" y="417.8" width="6.800000000000011" height="1.4" fill="#111" shape-rendering="geometricPrecision"/>
<rect x="282.3" y="706.8" width="11.699999999999989" height="1.4" fill="#111" shape-rendering="geometricPrecision"/>
<rect x="287.8" y="701.6" width="1.4" height="11.299999999999955" fill="#111" shape-rendering="geometricPrecision"/>
<rect x="356" y="706.8" width="6.800000000000011" height="1.4" fill="#111" shape-rendering="geometricPrecision"/>
<rect x="196.4" y="633.9" width="6.199999999999989" height="1.2" fill="#222" shape-rendering="geometricPrecision"/>
</svg>
</body></html>
